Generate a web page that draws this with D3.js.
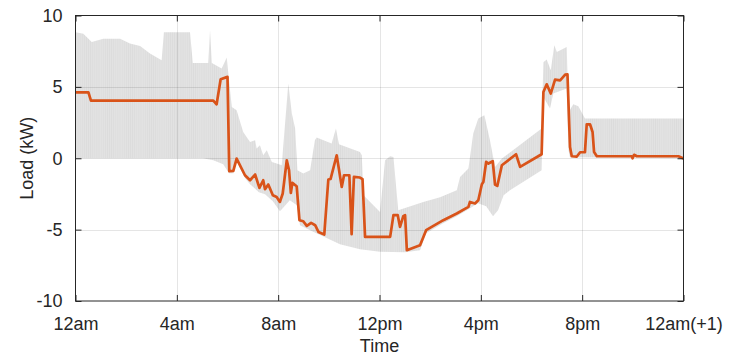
<!DOCTYPE html>
<html>
<head>
<meta charset="utf-8">
<script src="https://cdn.jsdelivr.net/npm/d3@7/dist/d3.min.js"></script>
<style>
  html, body { margin: 0; padding: 0; background: #fff; }
  svg { display: block; font-family: "Liberation Sans", Arial, sans-serif; }
</style>
</head>
<body>
<svg id="chart" width="732" height="356"></svg>
<script>
// Time-of-day tick positions (hours) and their labels
const xTickHours = [0, 4, 8, 12, 16, 20, 24];
const xTickLabels = ["12am", "4am", "8am", "12pm", "4pm", "8pm", "12am(+1)"];
const yTicks = [-10, -5, 0, 5, 10];

// Net load profile (hours, kW)
const loadHours = [0, 0.51, 0.61, 5.44, 5.57, 5.73, 6.0, 6.07, 6.23, 6.36, 6.69, 6.89, 7.09, 7.26, 7.41, 7.48, 7.61, 7.79, 7.94, 8.07,
  8.18, 8.34, 8.43, 8.50, 8.56, 8.73, 8.84, 8.99, 9.13, 9.30, 9.46, 9.59, 9.82, 9.98, 10.07, 10.31, 10.51, 10.60, 10.81, 10.90,
  10.99, 11.23, 11.33, 11.43, 12.42, 12.55, 12.72, 12.81, 12.94, 13.01, 13.08, 13.60, 13.84, 14.06, 14.52, 15.05, 15.51, 15.57, 15.77, 15.90,
  16.04, 16.10, 16.21, 16.30, 16.47, 16.56, 16.65, 16.83, 17.39, 17.55, 18.40, 18.47, 18.60, 18.76, 18.93, 19.13, 19.33, 19.42, 19.52, 19.59,
  19.79, 19.92, 20.11, 20.18, 20.31, 20.41, 20.47, 20.58, 21.96, 21.99, 22.05, 22.16, 23.80, 24.0];
const loadKW = [4.62, 4.62, 4.04, 4.04, 3.78, 5.53, 5.70, -0.91, -0.89, -0.02, -1.19, -1.54, -1.14, -2.08, -1.54, -2.17, -1.84, -2.59, -2.71, -3.06,
  -2.47, -0.14, -0.84, -2.43, -1.73, -1.96, -4.34, -4.41, -4.74, -4.53, -4.69, -5.16, -5.34, -1.49, -1.45, 0.21, -2.01, -1.19, -1.19, -5.32,
  -1.31, -1.35, -1.47, -5.51, -5.51, -3.99, -3.99, -4.81, -4.06, -3.99, -6.44, -6.09, -5.04, -4.81, -4.34, -3.87, -3.41, -3.06, -3.17, -2.94,
  -1.82, -1.66, -0.26, -0.37, -0.21, -1.84, -1.94, -0.49, 0.28, -0.61, 0.28, 4.64, 5.18, 4.53, 5.51, 5.46, 5.86, 5.88, 0.79, 0.14,
  0.12, 0.42, 0.42, 2.38, 2.38, 1.84, 0.44, 0.14, 0.14, 0.0, 0.24, 0.14, 0.14, -0.02];

// Range envelope: upper bound (hours, kW)
const upperHours = [0, 0.31, 0.64, 1.10, 1.76, 2.15, 2.55, 2.94, 3.40, 3.49, 4.52, 4.63, 5.24, 5.31, 5.38, 5.77, 5.97, 6.06, 6.17, 6.36,
  6.62, 6.89, 7.09, 7.15, 7.28, 7.41, 7.55, 7.75, 7.94, 8.14, 8.40, 8.54, 8.67, 8.76, 8.99, 9.26, 9.45, 9.52, 10.11, 10.28,
  10.40, 11.23, 11.30, 11.37, 12.02, 12.22, 12.42, 12.55, 12.74, 13.73, 14.39, 15.05, 15.18, 15.51, 15.70, 15.90, 16.14, 16.36, 16.56, 16.83,
  18.40, 18.47, 18.60, 18.76, 18.90, 19.0, 19.39, 19.46, 19.65, 19.85, 20.11, 24.0];
const upperKW = [8.82, 8.73, 8.14, 8.38, 8.38, 8.03, 7.86, 7.33, 6.86, 8.82, 8.82, 6.67, 6.67, 8.96, 6.67, 6.28, 7.05, 5.46, 3.59, 3.36,
  1.84, 1.14, 1.26, 0.68, 0.91, 0.21, 0.56, -0.26, -0.37, -0.49, 5.23, 3.13, 2.08, -0.84, -1.07, -0.84, 1.26, 1.45, 1.03, 2.08,
  0.98, 0.44, 0.21, -2.59, -3.76, -0.14, 0.14, 0.09, -3.64, -3.06, -2.73, -2.24, -1.31, -0.72, 1.73, 2.78, 3.01, 1.26, -0.61, -0.02,
  2.08, 6.72, 6.91, 6.16, 7.91, 7.44, 7.79, 3.22, 3.78, 3.64, 2.78, 2.78];

// Range envelope: lower bound (hours, kW)
const lowerHours = [0, 5.03, 5.44, 5.83, 6.06, 6.23, 6.36, 6.69, 6.89, 7.24, 7.48, 7.79, 8.07, 8.18, 8.46, 8.74, 8.86, 9.34, 9.85, 10.44,
  11.23, 12.02, 13.0, 13.6, 13.84, 14.51, 15.05, 15.51, 15.89, 16.21, 16.48, 16.68, 16.9, 17.15, 18.40, 18.47, 18.73, 18.86, 19.39, 19.46,
  19.52, 24.0];
const lowerKW = [0.0, 0.0, -0.14, -0.42, -1.05, -1.05, -0.21, -1.40, -1.82, -2.38, -2.52, -3.01, -3.71, -3.5, -2.94, -3.29, -4.69, -5.11, -5.53, -6.02,
  -6.37, -6.55, -6.58, -6.44, -5.25, -4.55, -4.06, -3.57, -3.15, -3.36, -4.06, -3.64, -2.59, -2.24, -0.84, 4.29, 3.48, 4.53, 4.88, 0.56,
  0.07, 0.0];

const svg = d3.select("#chart");
const plotL = 75.5, plotR = 683.5, plotT = 15.5, plotB = 301;

const x = d3.scaleLinear().domain([0, 24]).range([plotL, plotR]);
const y = d3.scaleLinear().domain([-10, 10]).range([plotB, plotT]);

// Fine vertical texture inside the envelope
const defs = svg.append("defs");
const pat = defs.append("pattern").attr("id", "hatch")
  .attr("patternUnits", "userSpaceOnUse").attr("width", 2.1).attr("height", 10);
pat.append("rect").attr("width", 2.1).attr("height", 10).attr("fill", "#e2e2e2");
pat.append("rect").attr("width", 0.5).attr("height", 10).attr("fill", "#d9d9d9");

// Build the envelope polygon from upper and lower bounds
const upperPts = upperHours.map((h, i) => [x(h), y(upperKW[i])]);
const lowerPts = lowerHours.map((h, i) => [x(h), y(lowerKW[i])]).reverse();
svg.append("path")
  .attr("d", d3.line()(upperPts.concat(lowerPts)) + "Z")
  .attr("fill", "url(#hatch)")
  .attr("stroke", "none");

// Grid lines
const grid = svg.append("g").attr("stroke", "#262626").attr("stroke-opacity", 0.12).attr("stroke-width", 1);
xTickHours.slice(1, -1).forEach(h => {
  grid.append("line").attr("x1", Math.round(x(h)) + 0.5).attr("x2", Math.round(x(h)) + 0.5)
    .attr("y1", plotT).attr("y2", plotB);
});
yTicks.slice(1, -1).forEach(v => {
  grid.append("line").attr("y1", Math.round(y(v)) + 0.5).attr("y2", Math.round(y(v)) + 0.5)
    .attr("x1", plotL).attr("x2", plotR);
});

// Load line
svg.append("path")
  .datum(loadHours.map((h, i) => [h, loadKW[i]]))
  .attr("fill", "none")
  .attr("stroke", "#D95319")
  .attr("stroke-width", 2.7)
  .attr("stroke-linejoin", "round")
  .attr("d", d3.line().x(d => x(d[0])).y(d => y(d[1])));

// Axes with inward ticks on all four sides
const axisColor = "#262626";
function styleAxis(g, showText) {
  g.select(".domain").remove();
  g.selectAll(".tick line").attr("stroke", axisColor);
  g.selectAll(".tick text").attr("fill", axisColor).style("font-size", "18px")
    .style("font-family", "'Liberation Sans', Arial, sans-serif");
  if (!showText) g.selectAll(".tick text").remove();
}

svg.append("g").attr("transform", `translate(0,${plotB})`)
  .call(d3.axisBottom(x).tickValues(xTickHours).tickFormat((d, i) => xTickLabels[i]).tickSize(-6).tickPadding(16))
  .call(g => styleAxis(g, true));
svg.append("g").attr("transform", `translate(0,${plotT})`)
  .call(d3.axisTop(x).tickValues(xTickHours).tickSize(-6))
  .call(g => styleAxis(g, false));
svg.append("g").attr("transform", `translate(${plotL},0)`)
  .call(d3.axisLeft(y).tickValues(yTicks).tickFormat(d => String(d)).tickSize(-6).tickPadding(13))
  .call(g => styleAxis(g, true));
svg.append("g").attr("transform", `translate(${plotR},0)`)
  .call(d3.axisRight(y).tickValues(yTicks).tickSize(-6))
  .call(g => styleAxis(g, false));

// Box
svg.append("rect").attr("x", plotL).attr("y", plotT)
  .attr("width", plotR - plotL).attr("height", plotB - plotT)
  .attr("fill", "none").attr("stroke", axisColor).attr("stroke-width", 1);

// Axis titles
svg.append("text").attr("x", (plotL + plotR) / 2).attr("y", 352)
  .attr("text-anchor", "middle").attr("fill", axisColor).style("font-size", "18px")
  .text("Time");
svg.append("text").attr("transform", `translate(33,${(plotT + plotB) / 2}) rotate(-90)`)
  .attr("text-anchor", "middle").attr("fill", axisColor).style("font-size", "18px")
  .text("Load (kW)");
</script>
</body>
</html>
